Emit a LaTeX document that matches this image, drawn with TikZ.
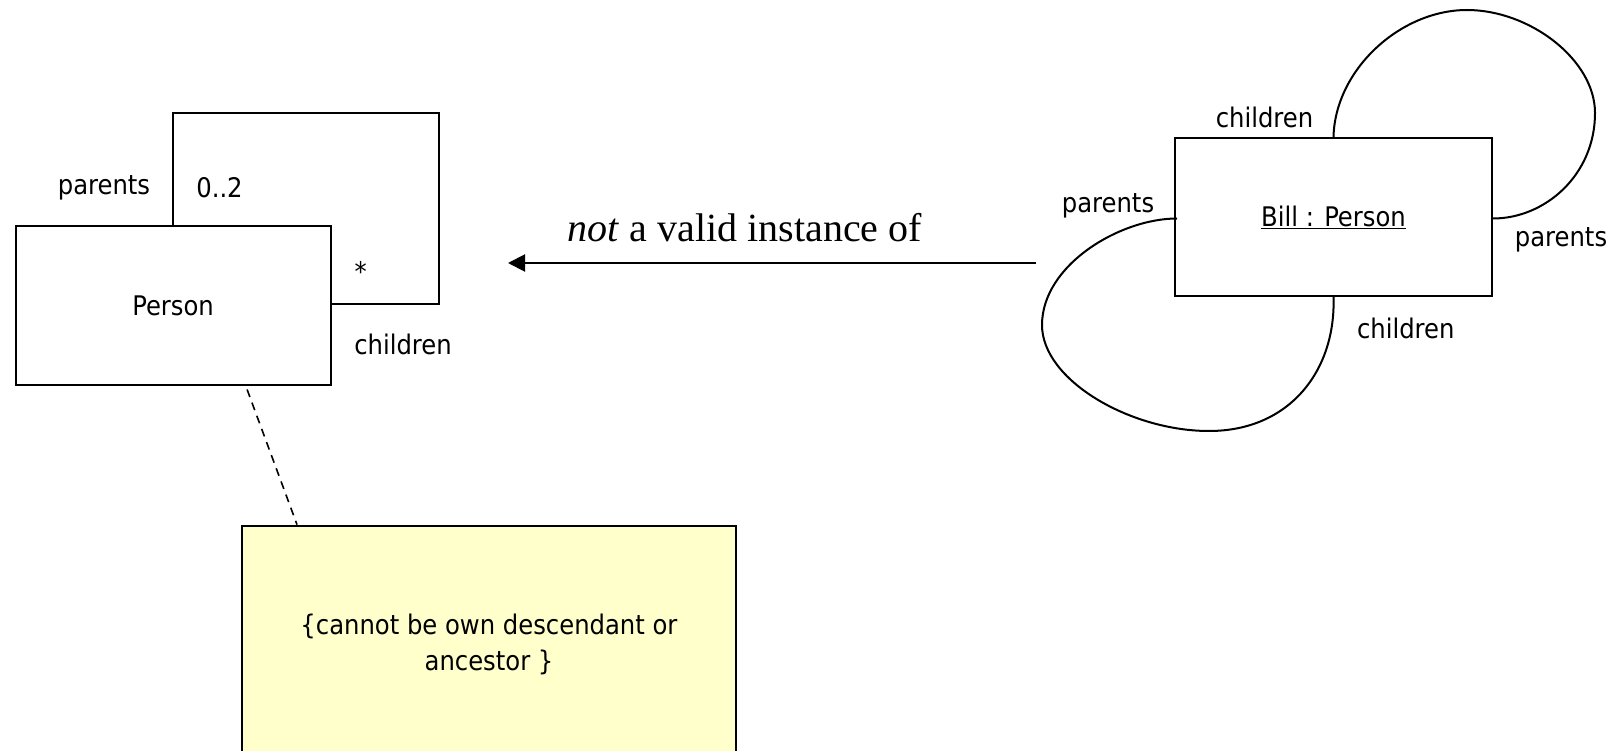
\documentclass[tikz,border=0pt]{standalone}
\usepackage{fontspec}
\setmainfont{Liberation Serif}
\newfontfamily\umlfont{DejaVu Sans Condensed}
\usetikzlibrary{arrows.meta}
\definecolor{notefill}{HTML}{FFFFCC}
\begin{document}
\begin{tikzpicture}[x=1pt,y=-1pt,
  line width=2pt,
  classbox/.style={draw=black,fill=white,minimum width=315pt,minimum height=158pt,inner sep=0pt,
    font=\umlfont\fontsize{27}{32}\selectfont},
  objbox/.style={classbox,minimum width=317pt},
  notebox/.style={draw=black,fill=notefill,minimum width=494pt,minimum height=238pt,inner sep=0pt,
    align=center,font=\umlfont\fontsize{27}{36}\selectfont},
  rolelabel/.style={inner sep=0pt,font=\umlfont\fontsize{27}{32}\selectfont},
  assoc/.style={draw=black,line width=2pt},
  dashlink/.style={draw=black,line width=1.6pt,dash pattern=on 8pt off 6pt},
  relarrow/.style={draw=black,line width=2pt,-{Triangle[length=17pt,width=17pt]}}
]
\useasboundingbox (0,0) rectangle (1616,751);

% class Person with its recursive association
\node[classbox] (person) at (173.1,305.5) {Person};
\coordinate (pc1) at (173,113.4);
\coordinate (pc2) at (439,113.4);
\coordinate (pc3) at (439,304);
\draw[assoc] (person.north -| pc1) -- (pc1) -- (pc2) -- (pc3) -- (pc3 -| person.east);
\node[rolelabel] (pparents) at (104,187.6) {parents};
\node[rolelabel] (pmult) at (219.5,187.6) {0..2};
\node[rolelabel] (pstar) at (360.7,271) {*};
\node[rolelabel] (pchildren) at (403,344) {children};

% constraint note
\node[notebox] (note) at (489,644.6) {\{cannot be own descendant or\\ancestor \}};
\draw[dashlink] ([xshift=74pt,yshift=-4pt]person.south) -- ([xshift=56pt]note.north west);

% object Bill with two self links
\node[objbox] (bill) at (1333.5,217) {\underline{Bill : Person}};
\draw[assoc] (bill.north)
  .. controls (1335,70) and (1400,10) .. (1467,10)
  .. controls (1530,10) and (1595,60) .. (1595,113)
  .. controls (1595,175) and (1545,218.5) .. (bill.east |- 0,218.5);
\draw[assoc] ([xshift=3pt,yshift=-1.5pt]bill.west)
  .. controls (1120,218.5) and (1042,265) .. (1042,325)
  .. controls (1042,380) and (1130,431) .. (1209,431)
  .. controls (1290,431) and (1336,370) .. (bill.south);
\node[rolelabel] (bctop) at (1264.5,117.5) {children};
\node[rolelabel] (bpleft) at (1108,206) {parents};
\node[rolelabel] (bpright) at (1561,240) {parents};
\node[rolelabel] (bcbottom) at (1405.7,328.8) {children};

% instance-of relation
\coordinate (arrfrom) at (1036,263);
\coordinate (arrto) at (508,263);
\draw[relarrow] (arrfrom) -- (arrto);
\node[inner sep=0pt,font=\fontsize{40}{48}\selectfont] (reltext) at (745,227.8) {\textit{not} a valid instance of};
\end{tikzpicture}
\end{document}
